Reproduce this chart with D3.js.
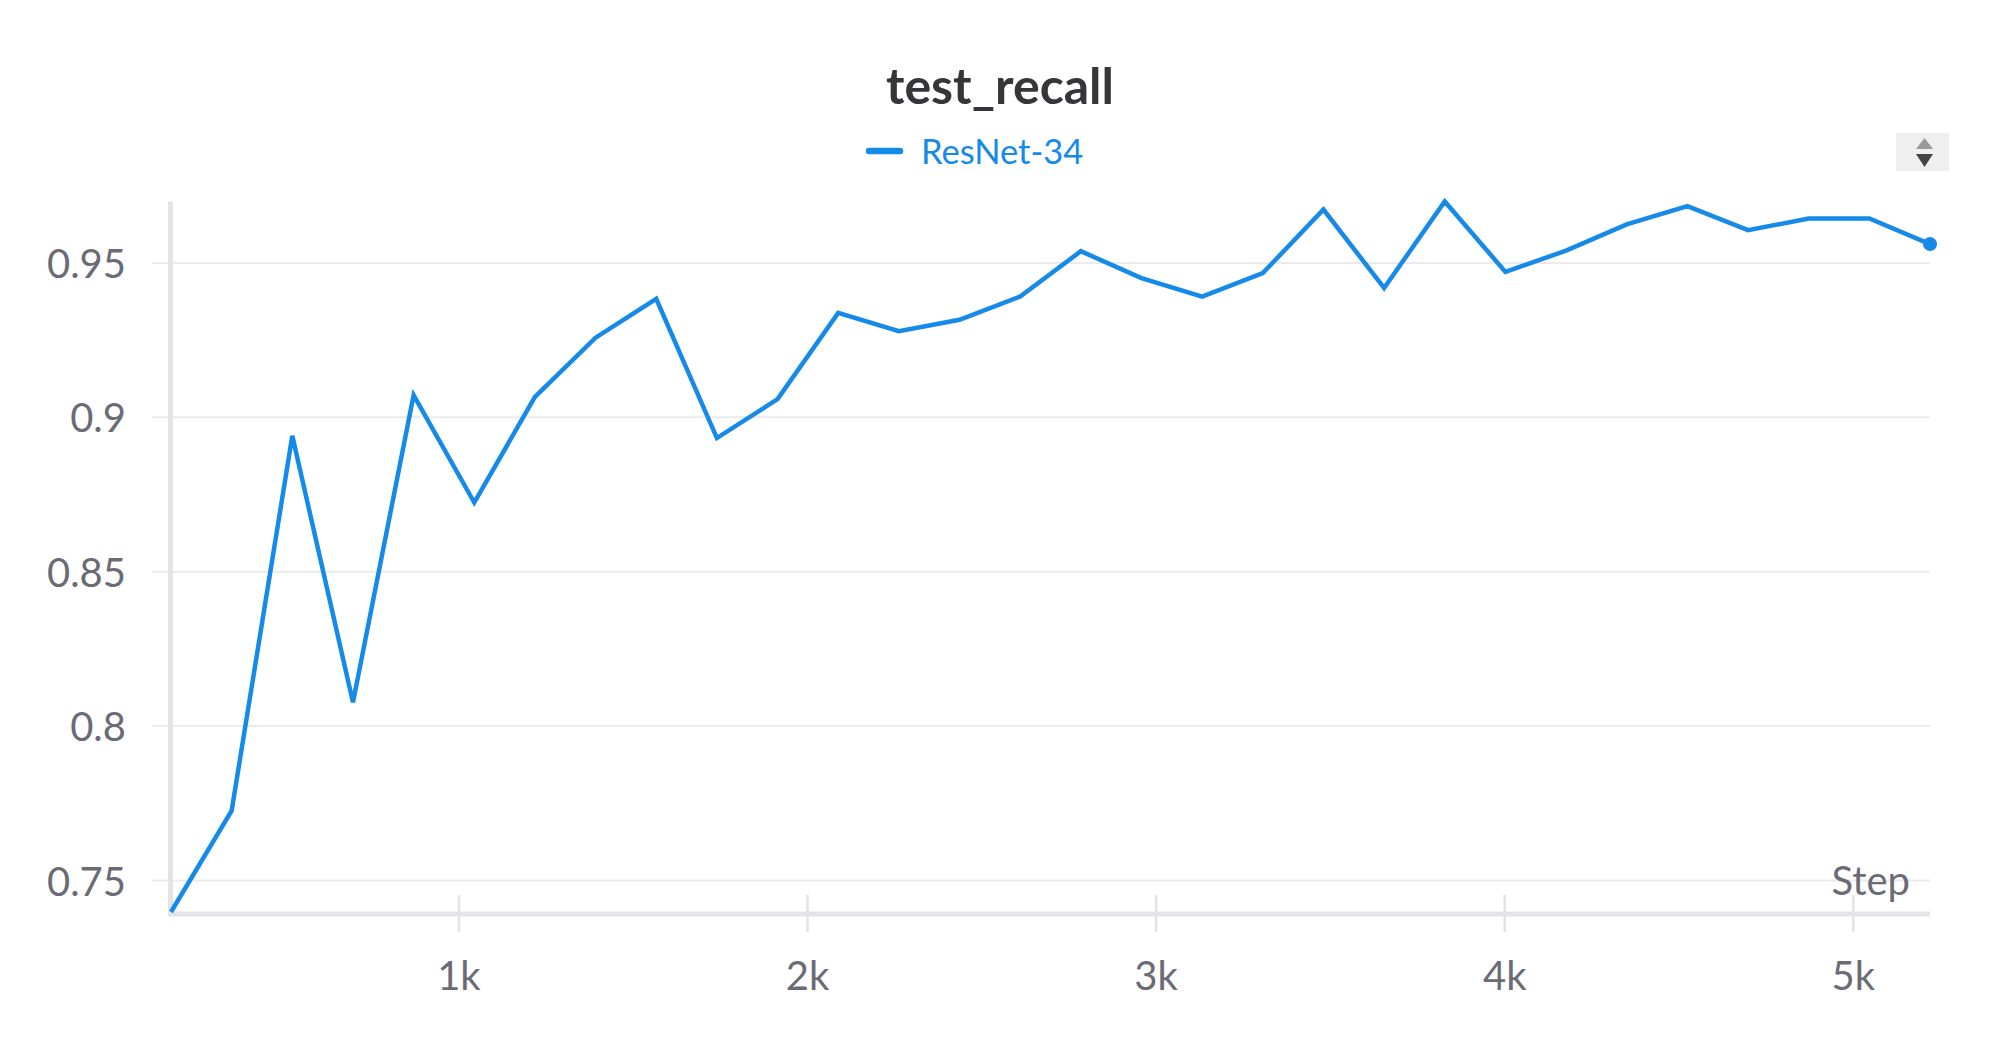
<!DOCTYPE html>
<html>
<head>
<meta charset="utf-8">
<script src="https://cdn.jsdelivr.net/npm/d3@7"></script>
<style>
  html, body { margin: 0; padding: 0; background: #ffffff; }
  svg { display: block; }
</style>
</head>
<body>
<script>
const chartTitle = "test_recall";
const seriesName = "ResNet-34";
const steps = [174, 348, 522, 696, 870, 1044, 1218, 1392, 1566, 1740,
               1914, 2088, 2262, 2436, 2610, 2784, 2958, 3132, 3306, 3480,
               3654, 3828, 4002, 4176, 4350, 4524, 4698, 4872, 5046, 5220];
const recall = [0.7398, 0.7726, 0.8940, 0.8077, 0.9072, 0.8724, 0.9066, 0.9258, 0.9384, 0.8933,
                0.9059, 0.9338, 0.9279, 0.9316, 0.9391, 0.9538, 0.9451, 0.9391, 0.9467, 0.9673,
                0.9419, 0.9699, 0.9471, 0.9540, 0.9625, 0.9684, 0.9606, 0.9644, 0.9644, 0.9561];
const yTicks = [0.75, 0.8, 0.85, 0.9, 0.95];
const yTickLabels = ["0.75", "0.8", "0.85", "0.9", "0.95"];
const xTicks = [1000, 2000, 3000, 4000, 5000];
const xTickLabels = ["1k", "2k", "3k", "4k", "5k"];
const xAxisLabel = "Step";

(function () {
const W = 2000, H = 1050;
const mLeft = 171, mRight = 1930, mTop = 201.5, mBottom = 912;
const lineColor = "#158ae8";
const font = "Lato, 'Noto Sans', sans-serif";

const data = steps.map((s, i) => ({step: s, value: recall[i]}));

const svg = d3.select("body").append("svg").attr("width", W).attr("height", H);

const x = d3.scaleLinear().domain(d3.extent(steps)).range([mLeft, mRight]);
const y = d3.scaleLinear().domain(d3.extent(recall)).range([mBottom, mTop]);

// gridlines
svg.append("g").selectAll("line").data(yTicks).join("line")
  .attr("x1", 152).attr("x2", mRight)
  .attr("y1", d => y(d)).attr("y2", d => y(d))
  .attr("stroke", "#ebebee").attr("stroke-width", 2);

// y tick labels
svg.append("g").selectAll("text").data(yTicks).join("text")
  .attr("x", 126).attr("y", d => y(d))
  .attr("text-anchor", "end").attr("dominant-baseline", "central")
  .attr("font-family", font).attr("font-size", 40).attr("fill", "#6b6b76")
  .text((d, i) => yTickLabels[i]);

// x ticks
svg.append("g").selectAll("line").data(xTicks).join("line")
  .attr("x1", d => x(d)).attr("x2", d => x(d))
  .attr("y1", 895).attr("y2", 932)
  .attr("stroke", "#e3e3e6").attr("stroke-width", 2.5);

svg.append("g").selectAll("text").data(xTicks).join("text")
  .attr("x", d => x(d)).attr("y", 990)
  .attr("text-anchor", "middle")
  .attr("font-family", font).attr("font-size", 40).attr("fill", "#6b6b76")
  .text((d, i) => xTickLabels[i]);

// axes lines
svg.append("line").attr("x1", mLeft - 0.5).attr("x2", mLeft - 0.5)
  .attr("y1", mTop).attr("y2", mBottom + 4)
  .attr("stroke", "#e4e4e8").attr("stroke-width", 5);
svg.append("line").attr("x1", mLeft - 3).attr("x2", mRight)
  .attr("y1", mBottom + 2).attr("y2", mBottom + 2)
  .attr("stroke", "#e4e4e8").attr("stroke-width", 5);

// Step label
svg.append("text").attr("x", 1910).attr("y", 895)
  .attr("text-anchor", "end")
  .attr("font-family", font).attr("font-size", 40).attr("fill", "#6b6b76")
  .text(xAxisLabel);

// line
const line = d3.line().x(d => x(d.step)).y(d => y(d.value));
svg.append("path").datum(data)
  .attr("d", line).attr("fill", "none")
  .attr("stroke", lineColor).attr("stroke-width", 4.5)
  .attr("stroke-linejoin", "miter");

// end dot
const last = data[data.length - 1];
svg.append("circle").attr("cx", x(last.step)).attr("cy", y(last.value))
  .attr("r", 7).attr("fill", lineColor);

// title
svg.append("text").attr("x", 1000).attr("y", 104)
  .attr("text-anchor", "middle")
  .attr("font-family", font).attr("font-weight", "bold")
  .attr("font-size", 50).attr("fill", "#35353a")
  .text(chartTitle);

// legend
svg.append("line").attr("x1", 869).attr("x2", 900).attr("y1", 151).attr("y2", 151)
  .attr("stroke", lineColor).attr("stroke-width", 6.5).attr("stroke-linecap", "round");
svg.append("text").attr("x", 921).attr("y", 164)
  .attr("font-family", font).attr("font-size", 34.5).attr("fill", lineColor)
  .text(seriesName);

// sort icon
const icon = svg.append("g");
icon.append("rect").attr("x", 1896).attr("y", 133).attr("width", 53).attr("height", 38)
  .attr("fill", "#efefef");
icon.append("path").attr("d", "M1916,149 L1933,149 L1924.5,138 Z").attr("fill", "#9a9a9a");
icon.append("path").attr("d", "M1916,154 L1933,154 L1924.5,167 Z").attr("fill", "#444444");
})();
</script>
</body>
</html>
